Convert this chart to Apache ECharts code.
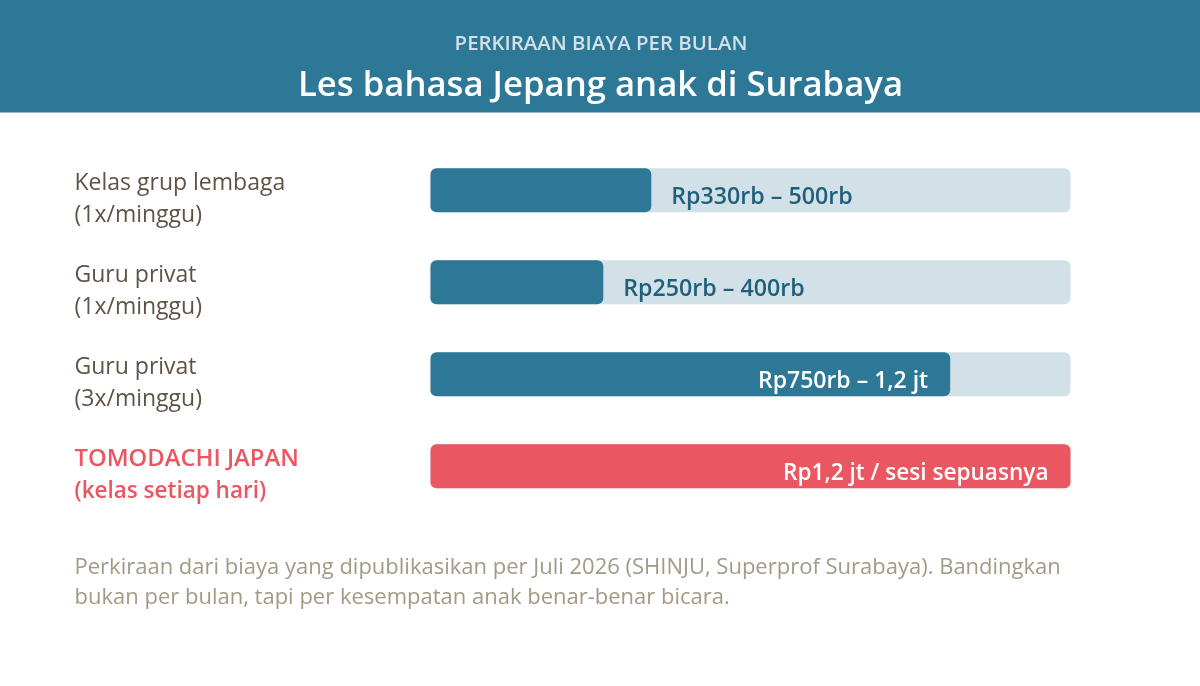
<!DOCTYPE html>
<html><head><meta charset="utf-8">
<style>html,body{margin:0;padding:0;background:#fff}#c{width:1200px;height:686px}</style>
<script src="https://cdn.jsdelivr.net/npm/echarts@6/dist/echarts.min.js"></script>
</head><body><div id="c"></div>
<script>
const categories = ['Kelas grup lembaga\n(1x/minggu)','Guru privat\n(1x/minggu)','Guru privat\n(3x/minggu)','TOMODACHI JAPAN\n(kelas setiap hari)'];
const fillValues = [34.5, 27, 81.2, 100];
const trackValues = [100, 100, 100, 100];
const valueLabels = ['Rp330rb – 500rb','Rp250rb – 400rb','Rp750rb – 1,2 jt','Rp1,2 jt / sesi sepuasnya'];
const subtitle = 'PERKIRAAN BIAYA PER BULAN';
const titleText = 'Les bahasa Jepang anak di Surabaya';
const note = 'Perkiraan dari biaya yang dipublikasikan per Juli 2026 (SHINJU, Superprof Surabaya). Bandingkan\nbukan per bulan, tapi per kesempatan anak benar-benar bicara.';
const FONT = '"Open Sans","Noto Sans",sans-serif';
const BLUE='#2D7896', RED='#EA5661', TRACK='#D2E0E8', DARKTXT='#1F5F7A';
const chart = echarts.init(document.getElementById('c'),null,{renderer:'canvas'});
const labelFor = i => {
  if (i<2) return {show:true,position:'right',distance:20,offset:[0,7],color:DARKTXT,fontFamily:FONT,fontSize:23.2,fontWeight:600,formatter:valueLabels[i]};
  return {show:true,position:'insideRight',distance:22,offset:[0,7],color:'#fff',fontFamily:FONT,fontSize:i===3?22.6:23,fontWeight:600,formatter:valueLabels[i]};
};
chart.setOption({
  animation:false,
  backgroundColor:'#fff',
  grid:{left:430.5,width:640,top:144.3,height:368,containLabel:false,outerBoundsMode:'none'},
  xAxis:{type:'value',min:0,max:100,show:false},
  yAxis:{type:'category',inverse:true,data:categories.map((c,i)=>({value:c,textStyle:{color:'#5F5346',align:'left'}})),
    axisLine:{show:false},axisTick:{show:false},
    axisLabel:{align:'left',margin:356,interval:0,showMinLabel:true,showMaxLabel:true,hideOverlap:false,fontFamily:FONT,fontSize:23,lineHeight:32,padding:[18,0,0,0],
      formatter:(v,i)=>{ if(i!==3) return v; const p=v.split('\n'); return '{a|'+p[0]+'}\n{b|'+p[1]+'}'; },
      rich:{a:{color:RED,fontFamily:FONT,fontWeight:600,fontSize:23.8,lineHeight:32},b:{color:RED,fontFamily:FONT,fontWeight:600,fontSize:22.5,lineHeight:32}}}},
  series:[
    {type:'bar',data:trackValues,barWidth:44,barGap:'-100%',silent:true,itemStyle:{color:TRACK,borderRadius:6}},
    {type:'bar',data:fillValues.map((v,i)=>({value:v,itemStyle:{color:i===3?RED:BLUE,borderRadius:6},label:labelFor(i)})),barWidth:44,z:3}
  ],
  title:[
    {text:subtitle,left:596,textAlign:'center',top:29,textStyle:{color:'#D2E0E8',fontFamily:FONT,fontSize:20.4,fontWeight:600}},
    {text:titleText,left:595.5,textAlign:'center',top:64,textStyle:{color:'#fff',fontFamily:FONT,fontSize:34.7,fontWeight:600}}
  ],
  graphic:[
    {type:'rect',z:-1,silent:true,shape:{x:0,y:0,width:1200,height:112.5},style:{fill:BLUE}},
    {type:'text',left:74.5,top:553,silent:true,style:{text:note,fill:'#A39A86',font:'22px '+FONT,lineHeight:30}}
  ]
});
</script></body></html>
